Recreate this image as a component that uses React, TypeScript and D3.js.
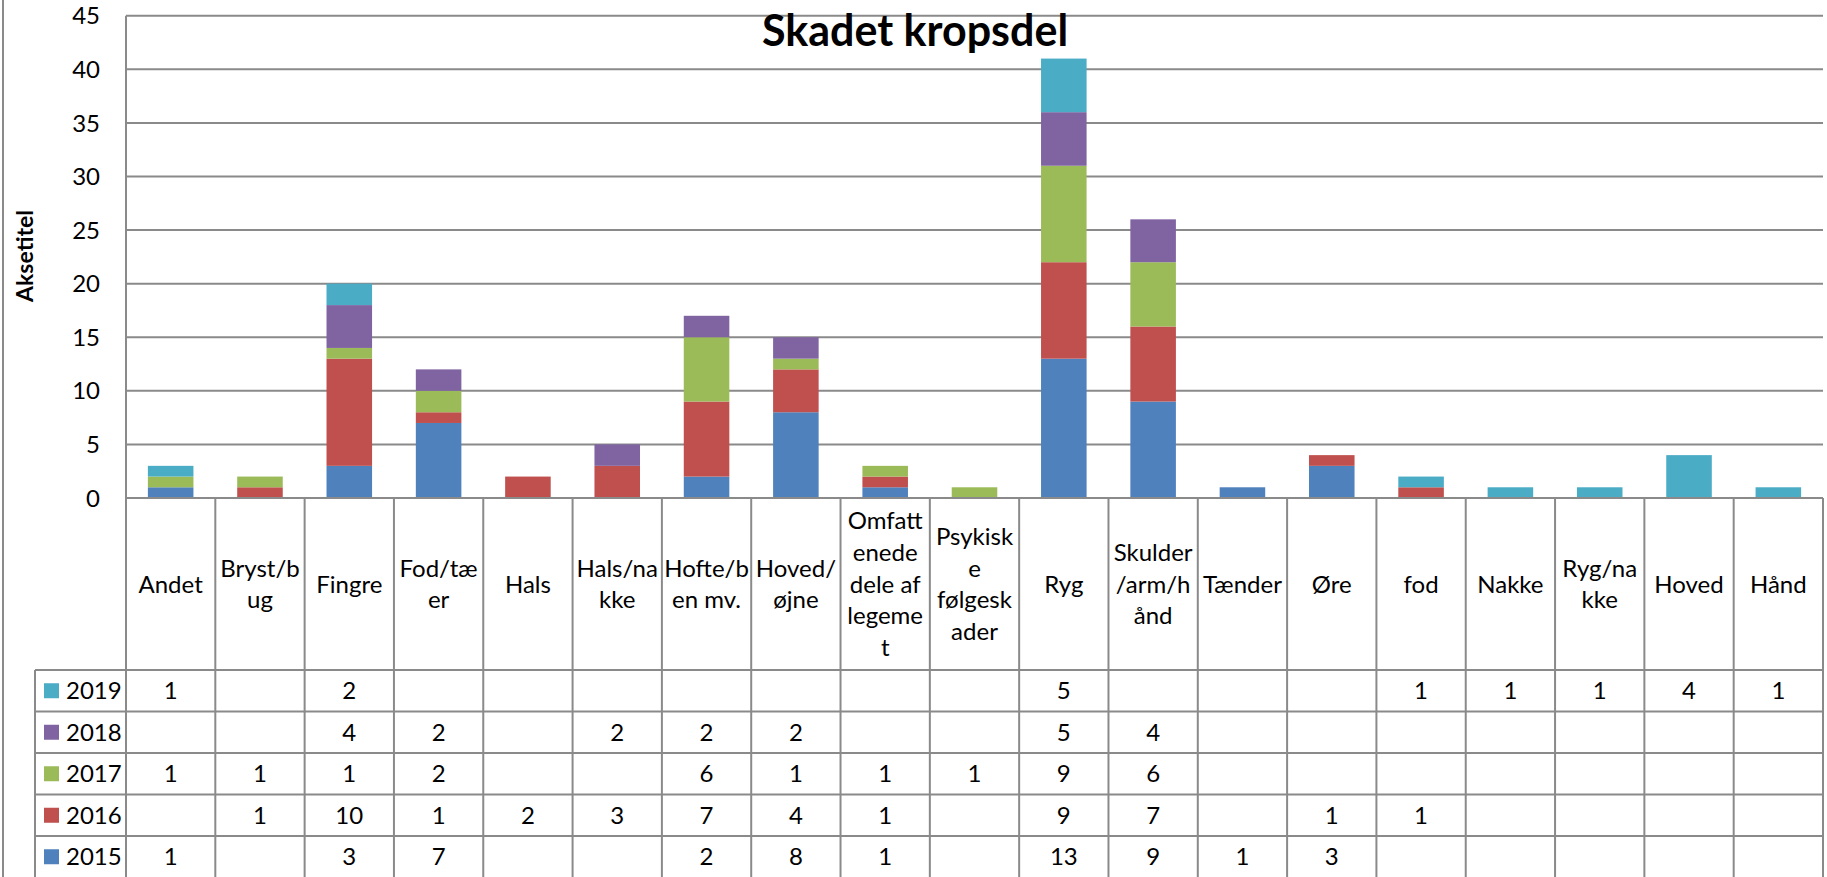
import { useEffect, useRef } from 'react';
import * as d3 from 'd3';

// categories as shown, with Excel's wrapping of the axis labels
const categories = [
    'Andet', 'Bryst/bug', 'Fingre', 'Fod/tæer', 'Hals', 'Hals/nakke', 'Hofte/ben mv.', 'Hoved/øjne',
    'Omfattenede dele af legemet', 'Psykiske følgeskader', 'Ryg', 'Skulder/arm/hånd', 'Tænder', 'Øre',
    'fod', 'Nakke', 'Ryg/nakke', 'Hoved', 'Hånd',
];
const categoryLines = [
    ['Andet'], ['Bryst/b', 'ug'], ['Fingre'], ['Fod/tæ', 'er'], ['Hals'], ['Hals/na', 'kke'],
    ['Hofte/b', 'en mv.'], ['Hoved/', 'øjne'], ['Omfatt', 'enede', 'dele af', 'legeme', 't'],
    ['Psykisk', 'e', 'følgesk', 'ader'], ['Ryg'], ['Skulder', '/arm/h', 'ånd'], ['Tænder'], ['Øre'],
    ['fod'], ['Nakke'], ['Ryg/na', 'kke'], ['Hoved'], ['Hånd'],
];

const years = ['2015', '2016', '2017', '2018', '2019'];
const v2015 = [1, null, 3, 7, null, null, 2, 8, 1, null, 13, 9, 1, 3, null, null, null, null, null];
const v2016 = [null, 1, 10, 1, 2, 3, 7, 4, 1, null, 9, 7, null, 1, 1, null, null, null, null];
const v2017 = [1, 1, 1, 2, null, null, 6, 1, 1, 1, 9, 6, null, null, null, null, null, null, null];
const v2018 = [null, null, 4, 2, null, 2, 2, 2, null, null, 5, 4, null, null, null, null, null, null, null];
const v2019 = [1, null, 2, null, null, null, null, null, null, null, 5, null, null, null, 1, 1, 1, 4, 1];
const seriesValues: Record<string, (number | null)[]> = {
    '2015': v2015, '2016': v2016, '2017': v2017, '2018': v2018, '2019': v2019,
};
const colors: Record<string, string> = {
    '2015': '#4F81BD', '2016': '#C0504D', '2017': '#9BBB59', '2018': '#8064A2', '2019': '#4BACC6',
};
const yTicks = [0, 5, 10, 15, 20, 25, 30, 35, 40, 45];

export default function App() {
    const svgRef = useRef<SVGSVGElement>(null);

    useEffect(() => {
        if (!svgRef.current) return;
        const W = 1827, H = 877;
        const left = 126, right = 1823;
        const yTopPx = 15.7, y0 = 498;
        const catBottom = 670, rowH = 41.5;
        const legLeft = 35;
        const lineCol = '#8a8a8a';
        const font = 'Lato, "Open Sans", sans-serif';
        const fs = 24;

        const svg = d3.select(svgRef.current);
        svg.selectAll('*').remove();
        svg.attr('width', W).attr('height', H).style('font-family', font);
        svg.append('rect').attr('width', W).attr('height', H).attr('fill', '#fff');

        const col = d3.scaleBand<string>().domain(categories).range([left, right]);
        const x = d3.scaleBand<string>().domain(categories).range([left, right])
            .paddingInner(0.49).paddingOuter(0.245);
        const y = d3.scaleLinear().domain([0, 45]).range([y0, yTopPx]);

        // outer chart border (left side only visible)
        svg.append('line').attr('x1', 3).attr('x2', 3).attr('y1', 0).attr('y2', H)
            .attr('stroke', lineCol).attr('stroke-width', 2);

        // gridlines
        svg.append('g').selectAll('line').data(yTicks.filter(t => t > 0)).join('line')
            .attr('x1', left).attr('x2', right)
            .attr('y1', d => y(d)).attr('y2', d => y(d))
            .attr('stroke', lineCol).attr('stroke-width', 2);

        // y tick labels
        svg.append('g').selectAll('text').data(yTicks).join('text')
            .attr('x', 100).attr('y', d => y(d)).attr('dy', '0.36em')
            .attr('text-anchor', 'end').attr('font-size', fs).attr('fill', '#000')
            .text(d => d);

        // stacked bars
        const rows = categories.map((c, i) => {
            const r: Record<string, number | string> = { cat: c };
            years.forEach(yr => { r[yr] = seriesValues[yr][i] ?? 0; });
            return r;
        });
        const stacked = d3.stack<Record<string, number | string>>().keys(years)(rows);
        svg.append('g').selectAll('g').data(stacked).join('g')
            .attr('fill', d => colors[d.key])
            .selectAll('rect').data(d => d.filter(s => s[1] > s[0])).join('rect')
            .attr('x', d => x(d.data.cat as string)!)
            .attr('width', x.bandwidth())
            .attr('y', d => y(d[1]))
            .attr('height', d => y(d[0]) - y(d[1]));

        // table grid
        const tg = svg.append('g').attr('stroke', lineCol).attr('stroke-width', 2);
        tg.append('line').attr('x1', left).attr('x2', left).attr('y1', yTopPx).attr('y2', H);
        categories.forEach(c => {
            const xr = col(c)! + col.bandwidth();
            tg.append('line').attr('x1', xr).attr('x2', xr).attr('y1', y0).attr('y2', H);
        });
        tg.append('line').attr('x1', left).attr('x2', right).attr('y1', y0).attr('y2', y0);
        const rowYears = years.slice().reverse();
        rowYears.forEach((_, i) => {
            const yy = catBottom + i * rowH;
            tg.append('line').attr('x1', legLeft).attr('x2', right).attr('y1', yy).attr('y2', yy);
        });
        tg.append('line').attr('x1', legLeft).attr('x2', legLeft).attr('y1', catBottom).attr('y2', H);

        // category labels
        const lineH = 31.7;
        const cg = svg.append('g').attr('font-size', fs).attr('text-anchor', 'middle').attr('fill', '#000');
        categories.forEach((c, i) => {
            const lines = categoryLines[i];
            const cx = col(c)! + col.bandwidth() / 2;
            const cy = (y0 + catBottom) / 2;
            const start = cy - ((lines.length - 1) * lineH) / 2;
            lines.forEach((ln, j) => {
                cg.append('text').attr('x', cx).attr('y', start + j * lineH).attr('dy', '0.36em').text(ln);
            });
        });

        // table values + legend keys
        const vg = svg.append('g').attr('font-size', fs).attr('fill', '#000');
        rowYears.forEach((yr, i) => {
            const cy = catBottom + i * rowH + rowH / 2;
            vg.append('rect').attr('x', 44).attr('y', cy - 7.5).attr('width', 15).attr('height', 15)
                .attr('fill', colors[yr]);
            vg.append('text').attr('x', 66).attr('y', cy).attr('dy', '0.36em').text(yr);
            seriesValues[yr].forEach((v, j) => {
                if (v == null) return;
                vg.append('text').attr('x', col(categories[j])! + col.bandwidth() / 2).attr('y', cy)
                    .attr('dy', '0.36em').attr('text-anchor', 'middle').text(v);
            });
        });

        // titles
        svg.append('text').attr('x', 915).attr('y', 46).attr('text-anchor', 'middle')
            .attr('font-size', 43).attr('font-weight', 'bold').attr('fill', '#000')
            .text('Skadet kropsdel');
        svg.append('text').attr('transform', 'translate(33,256) rotate(-90)')
            .attr('text-anchor', 'middle').attr('font-size', 23).attr('font-weight', 'bold')
            .attr('fill', '#000').text('Aksetitel');
    }, []);

    return (
        <div style={{ position: 'fixed', left: 0, top: 0 }}>
            <svg ref={svgRef} style={{ display: 'block' }} />
        </div>
    );
}
